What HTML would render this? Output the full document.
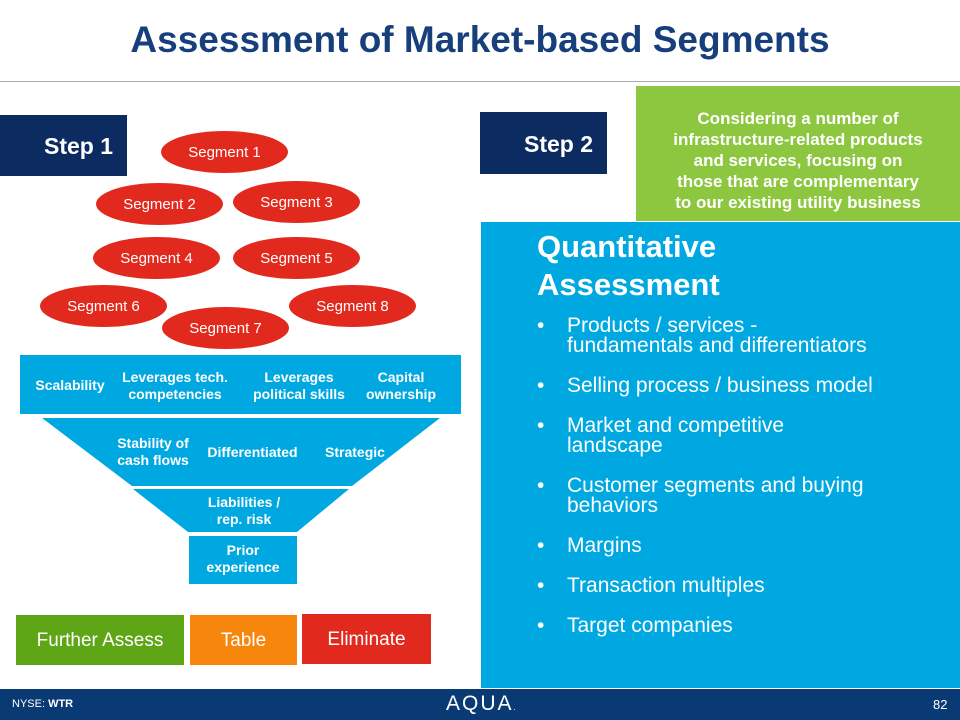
<!DOCTYPE html>
<html><head><style>
body{margin:0;width:960px;height:720px;position:relative;overflow:hidden;background:#fff;font-family:"Liberation Sans",sans-serif}
.a{position:absolute}
.t{font-weight:bold;color:#fff;text-align:center;font-size:14px;line-height:17px}
.e{position:absolute;background:#e2291e;border-radius:50%;color:#fff;font-size:15px;text-align:center;line-height:44px;width:127px;height:42px}
.b{position:absolute;color:#fff;font-size:19px;text-align:center;line-height:52px;height:50px}
.li{position:absolute;left:86px;font-size:21px;line-height:20px;white-space:nowrap}
.li:before{content:"•";position:absolute;left:-30px}
</style></head><body>
<div class="a" style="left:0;top:19px;width:960px;text-align:center;font-size:37px;font-weight:bold;color:#173f7c">Assessment of Market-based Segments</div>
<div class="a" style="left:0;top:81px;width:960px;height:1px;background:#aaa"></div>
<div class="a t" style="left:0;top:115px;width:127px;height:61px;background:#0b2b61;font-size:23px;line-height:63px;padding-left:30px;box-sizing:border-box">Step 1</div>
<div class="a t" style="left:480px;top:112px;width:127px;height:62px;background:#0b2b61;font-size:23px;line-height:64px;padding-left:30px;box-sizing:border-box">Step 2</div>
<div class="a t" style="left:636px;top:86px;width:324px;height:135px;background:#8dc63f;font-size:17px;line-height:21px;padding-top:22px;box-sizing:border-box">Considering a number of<br>infrastructure-related products<br>and services, focusing on<br>those that are complementary<br>to our existing utility business</div>
<div class="e" style="left:161px;top:131px">Segment 1</div>
<div class="e" style="left:96px;top:183px">Segment 2</div>
<div class="e" style="left:233px;top:181px">Segment 3</div>
<div class="e" style="left:93px;top:237px">Segment 4</div>
<div class="e" style="left:233px;top:237px">Segment 5</div>
<div class="e" style="left:40px;top:285px">Segment 6</div>
<div class="e" style="left:289px;top:285px">Segment 8</div>
<div class="e" style="left:162px;top:307px">Segment 7</div>
<svg class="a" style="left:0;top:0" width="480" height="600">
<rect x="20" y="355" width="441" height="59" fill="#00a8e1"/>
<polygon points="42,418 440,418 352,486 132,486" fill="#00a8e1"/>
<polygon points="133,489 349,489 297,532 188,532" fill="#00a8e1"/>
<rect x="189" y="536" width="108" height="48" fill="#00a8e1"/>
</svg>
<div class="a t" style="left:25px;top:377px;width:90px">Scalability</div>
<div class="a t" style="left:113px;top:369px;width:124px">Leverages tech.<br>competencies</div>
<div class="a t" style="left:245px;top:369px;width:108px">Leverages<br>political skills</div>
<div class="a t" style="left:358px;top:369px;width:86px">Capital<br>ownership</div>
<div class="a t" style="left:108px;top:435px;width:90px">Stability of<br>cash flows</div>
<div class="a t" style="left:200px;top:444px;width:105px">Differentiated</div>
<div class="a t" style="left:315px;top:444px;width:80px">Strategic</div>
<div class="a t" style="left:190px;top:494px;width:108px">Liabilities /<br>rep. risk</div>
<div class="a t" style="left:189px;top:542px;width:108px">Prior<br>experience</div>
<div class="b" style="left:16px;top:615px;width:168px;background:#5fa617">Further Assess</div>
<div class="b" style="left:190px;top:615px;width:107px;background:#f7860c">Table</div>
<div class="b" style="left:302px;top:614px;width:129px;background:#e2291e">Eliminate</div>
<div class="a" style="left:481px;top:222px;width:479px;height:466px;background:#00a8e1;color:#fff">
<div style="position:absolute;left:56px;top:6px;font-size:31px;font-weight:bold;line-height:38px">Quantitative<br>Assessment</div>
<div class="li" style="top:94px">Products / services -<br>fundamentals and differentiators</div>
<div class="li" style="top:154px">Selling process / business model</div>
<div class="li" style="top:194px">Market and competitive<br>landscape</div>
<div class="li" style="top:254px">Customer segments and buying<br>behaviors</div>
<div class="li" style="top:314px">Margins</div>
<div class="li" style="top:354px">Transaction multiples</div>
<div class="li" style="top:394px">Target companies</div>
</div>
<div class="a" style="left:0;top:689px;width:960px;height:31px;background:#0a3a74;color:#fff">
<div class="a" style="left:12px;top:9px;font-size:11px">NYSE: <b>WTR</b></div>
<div class="a" style="left:446px;top:3px;font-size:21px;letter-spacing:2px">AQUA<span style="font-size:8px">.</span></div>
<div class="a" style="left:933px;top:8px;font-size:13px">82</div>
</div>
</body></html>
